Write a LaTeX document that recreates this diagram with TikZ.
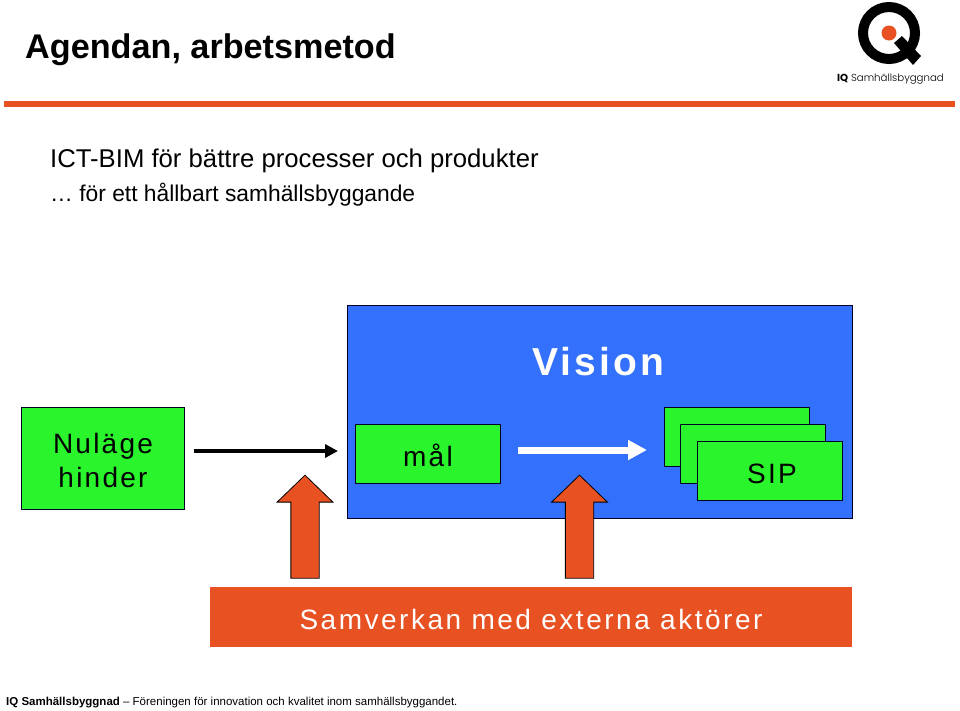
\documentclass[tikz,border=0pt]{standalone}
\usepackage{fontspec}
\setmainfont{Liberation Sans}
\newfontfamily\logofont[BoldFont={Poppins Bold}]{Poppins Light}
\usetikzlibrary{positioning}
\usetikzlibrary{shapes.arrows, arrows.meta}
\definecolor{iqblue}{HTML}{3370FC}
\definecolor{iqgreen}{HTML}{2AF52C}
\definecolor{iqorange}{HTML}{E85122}
\newcommand{\spaced}[1]{\addfontfeature{LetterSpace=#1}}

\begin{document}
\begin{tikzpicture}[x=1pt,y=-1pt,>=Triangle,
                box node/.style={draw=black!85!blue,line width=1pt,fill=iqgreen,minimum width=145pt,minimum height=59pt,inner sep=0pt,align=center,font=\fontsize{28}{34}\selectfont\spaced{8}},
                up arrow/.style={single arrow,draw=black,line width=0.8pt,fill=iqorange,shape border rotate=90,minimum height=103pt,minimum width=55pt,single arrow head extend=13.75pt,single arrow tip angle=92,inner sep=13.75pt},
                plain text/.style={anchor=west,inner sep=0pt}]

  \useasboundingbox (0,0) rectangle (960,710);
  \fill[white] (0,0) rectangle (960,710);

  % heading
  \node[plain text,font=\fontsize{34.2}{40}\selectfont\bfseries] (title) at (25,50) {Agendan, arbetsmetod};
  \node[plain text,font=\fontsize{25.7}{30}\selectfont] (line1) at (50,161) {ICT-BIM för bättre processer och produkter};
  \node[plain text,font=\fontsize{22.8}{28}\selectfont] (line2) at (50,195) {… för ett hållbart samhällsbyggande};
  \fill[iqorange] (4,101) rectangle (955,107);

  % logo
  \draw[line width=10pt] (889,33) circle (26pt);
  \fill[iqorange] (889,33) circle (7.5pt);
  \fill[black] (894,43) -- (902,36) -- (921,56) -- (913,65) -- cycle;
  \node[plain text,font=\logofont\fontsize{10.2}{12}\selectfont] (logotext) at (837,79) {\textbf{IQ} Samhällsbyggnad};

  % boxes
  \node[draw=black!85!blue,line width=1pt,fill=iqblue,minimum width=505pt,minimum height=213pt] (vision) at (599.5,411.5) {};
  \node[inner sep=0pt,text=white,font=\fontsize{39}{47}\selectfont\bfseries\spaced{8}] (visiontext) at (598,362) {Vision};
  \node[box node,minimum width=163pt,minimum height=102pt] (nulage) at (103,458.5) {\rule{0pt}{25pt}Nuläge\\hinder};
  \node[box node] (mal) at (428,454) {\rule{0pt}{25pt}mål};
  \node[box node] (sipa) at (736.5,437) {};
  \node[box node] (sipb) [below right=-43.25pt and -129.25pt of sipa] {};
  \node[box node] (sipc) [below right=-43.25pt and -129.25pt of sipb] {\rule{0pt}{27pt}\hspace{4pt}SIP};

  \node[fill=iqorange,minimum width=642pt,minimum height=60pt,text=white,font=\fontsize{28}{34}\selectfont\spaced{9}] (samverkan) at (531,617) {\rule{0pt}{25pt}Samverkan med externa aktörer};

  % arrows
  \coordinate (svartstart) at (194,451);
  \coordinate (svartslut) at (338,451);
  \coordinate (vitstart) at (518,450);
  \coordinate (vitslut) at (647,450);
  \draw[->,line width=4.5pt,>={Triangle[length=13pt,width=13pt]}] (svartstart) -- (svartslut);
  \draw[->,white,line width=7pt,>={Triangle[length=19pt,width=19pt]}] (vitstart) -- (vitslut);
  \node[up arrow] (pilett) at (305,533.5) {};
  \node[up arrow] (piltva) at (579.5,533.5) {};

  % footer
  \node[plain text,font=\fontsize{11.5}{14}\selectfont] (foot) at (6,703) {\textbf{IQ Samhällsbyggnad} – Föreningen för innovation och kvalitet inom samhällsbyggandet.};
\end{tikzpicture}
\end{document}
